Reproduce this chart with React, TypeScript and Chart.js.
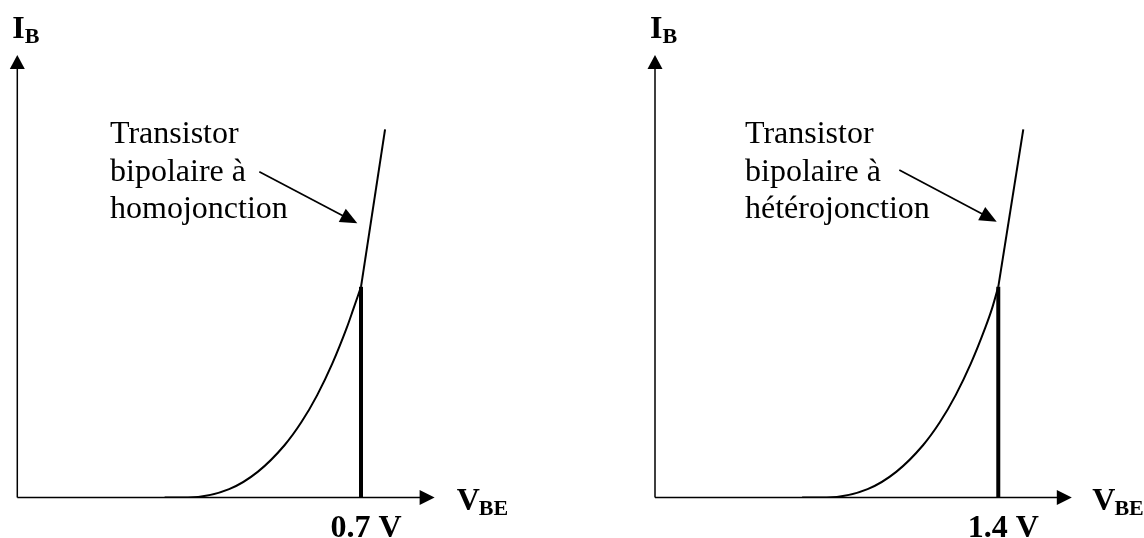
import React, { useEffect, useRef } from "react";
import { Chart, registerables } from "chart.js";

Chart.register(...registerables);

// ---- Data (V_BE in volts, I_B in arbitrary units) ----
const homoCurveX = [0.3, 0.3476, 0.4314, 0.4896, 0.5442, 0.5784, 0.6108, 0.6415, 0.6707, 0.6845, 0.7];
const homoCurveY = [0, 0, 0.189, 0.579, 1.181, 1.699, 2.314, 3.024, 3.826, 4.262, 4.76];
const homoLineX = [0.7, 0.749];
const homoLineY = [4.76, 8.32];
const homoKnee = { x: 0.7, y: 4.76 };
const homoXMax = 0.85;

const heteroCurveX = [0.6, 0.7003, 0.867, 0.9837, 1.093, 1.1615, 1.2263, 1.2879, 1.3462, 1.374, 1.4];
const heteroCurveY = [0, 0, 0.189, 0.579, 1.181, 1.699, 2.314, 3.024, 3.826, 4.262, 4.76];
const heteroLineX = [1.4, 1.502];
const heteroLineY = [4.76, 8.32];
const heteroKnee = { x: 1.4, y: 4.76 };
const heteroXMax = 1.7;

const yMax = 10;
const kneeLabels = ["0.7 V", "1.4 V"];
const annotationLines = [
  ["Transistor", "bipolaire à", "homojonction"],
  ["Transistor", "bipolaire à", "hétérojonction"],
];

const SERIF = "'Liberation Serif', 'Times New Roman', serif";

type PanelCfg = {
  curveX: number[];
  curveY: number[];
  lineX: number[];
  lineY: number[];
  knee: { x: number; y: number };
  xMax: number;
  kneeLabel: string;
  lines: string[];
  textX: number;
  arrowFrom: { x: number; y: number };
  arrowTo: { x: number; y: number };
  padding: { left: number; right: number; top: number; bottom: number };
  vGap: number;
};

function zip(xs: number[], ys: number[]) {
  return xs.map((x, i) => ({ x, y: ys[i] }));
}

function arrowHead(ctx: CanvasRenderingContext2D, x1: number, y1: number, x2: number, y2: number, len: number, half: number) {
  const a = Math.atan2(y2 - y1, x2 - x1);
  const bx = x2 - len * Math.cos(a);
  const by = y2 - len * Math.sin(a);
  ctx.beginPath();
  ctx.moveTo(x2, y2);
  ctx.lineTo(bx + half * Math.sin(a), by - half * Math.cos(a));
  ctx.lineTo(bx - half * Math.sin(a), by + half * Math.cos(a));
  ctx.closePath();
  ctx.fill();
}

function makeDecor(cfg: PanelCfg) {
  return {
    id: "decor",
    afterDatasetsDraw(chart: any) {
      const ctx: CanvasRenderingContext2D = chart.ctx;
      const xs = chart.scales.x;
      const ys = chart.scales.y;
      const x0 = xs.getPixelForValue(0);
      const y0 = ys.getPixelForValue(0);
      const xEnd = xs.getPixelForValue(cfg.xMax);
      const yEnd = ys.getPixelForValue(yMax);
      ctx.save();
      ctx.strokeStyle = "#000";
      ctx.fillStyle = "#000";
      ctx.lineWidth = 1.5;
      // axes
      ctx.beginPath();
      ctx.moveTo(x0, y0);
      ctx.lineTo(xEnd - 10, y0);
      ctx.moveTo(x0, y0);
      ctx.lineTo(x0, yEnd + 10);
      ctx.stroke();
      arrowHead(ctx, x0, y0, xEnd, y0, 15, 7.5);
      arrowHead(ctx, x0, y0, x0, yEnd, 14, 7.5);

      // I_B label
      ctx.textBaseline = "alphabetic";
      ctx.textAlign = "left";
      ctx.font = `bold 32px ${SERIF}`;
      ctx.fillText("I", x0 - 5, yEnd - 17);
      const iw = ctx.measureText("I").width;
      ctx.font = `bold 22px ${SERIF}`;
      ctx.fillText("B", x0 - 5 + iw, yEnd - 12);

      // V_BE label
      ctx.font = `bold 32px ${SERIF}`;
      ctx.fillText("V", xEnd + cfg.vGap, y0 + 12.5);
      const vw = ctx.measureText("V").width;
      ctx.font = `bold 22px ${SERIF}`;
      ctx.fillText("BE", xEnd + cfg.vGap + vw - 1, y0 + 17.5);

      // knee label
      ctx.font = `bold 32px ${SERIF}`;
      ctx.textAlign = "center";
      ctx.fillText(cfg.kneeLabel, xs.getPixelForValue(cfg.knee.x) + 5, y0 + 39.5);

      // annotation text
      ctx.font = `32px ${SERIF}`;
      ctx.textAlign = "left";
      const tx = xs.getPixelForValue(cfg.textX);
      cfg.lines.forEach((t, i) => {
        ctx.fillText(t, tx, 143 + i * 37.5);
      });

      // annotation arrow
      const ax1 = xs.getPixelForValue(cfg.arrowFrom.x);
      const ay1 = ys.getPixelForValue(cfg.arrowFrom.y);
      const ax2 = xs.getPixelForValue(cfg.arrowTo.x);
      const ay2 = ys.getPixelForValue(cfg.arrowTo.y);
      const ang = Math.atan2(ay2 - ay1, ax2 - ax1);
      ctx.lineWidth = 1.7;
      ctx.beginPath();
      ctx.moveTo(ax1, ay1);
      ctx.lineTo(ax2 - 12 * Math.cos(ang), ay2 - 12 * Math.sin(ang));
      ctx.stroke();
      arrowHead(ctx, ax1, ay1, ax2, ay2, 17, 7.5);
      ctx.restore();
    },
  };
}

function Panel({ cfg, left }: { cfg: PanelCfg; left: number }) {
  const ref = useRef<HTMLCanvasElement>(null);
  useEffect(() => {
    if (!ref.current) return;
    const chart = new Chart(ref.current, {
      type: "line",
      data: {
        datasets: [
          {
            data: zip(cfg.curveX, cfg.curveY),
            borderColor: "#000",
            borderWidth: 2,
            pointRadius: 0,
            cubicInterpolationMode: "monotone",
            fill: false,
          },
          {
            data: zip(cfg.lineX, cfg.lineY),
            borderColor: "#000",
            borderWidth: 2,
            pointRadius: 0,
            tension: 0,
            fill: false,
          },
          {
            data: [
              { x: cfg.knee.x, y: 0 },
              { x: cfg.knee.x, y: cfg.knee.y },
            ],
            borderColor: "#000",
            borderWidth: 4,
            pointRadius: 0,
            borderCapStyle: "butt",
            fill: false,
          },
        ],
      } as any,
      options: {
        animation: false,
        responsive: false,
        events: [],
        layout: { padding: cfg.padding },
        plugins: { legend: { display: false }, tooltip: { enabled: false } },
        scales: {
          x: { type: "linear", min: 0, max: cfg.xMax, display: false },
          y: { type: "linear", min: 0, max: yMax, display: false },
        },
      } as any,
      plugins: [makeDecor(cfg)],
    });
    return () => chart.destroy();
  }, []);
  return (
    <canvas
      ref={ref}
      width={572}
      height={538}
      style={{ position: "absolute", left, top: 0, width: 572, height: 538 }}
    />
  );
}

const homoCfg: PanelCfg = {
  curveX: homoCurveX,
  curveY: homoCurveY,
  lineX: homoLineX,
  lineY: homoLineY,
  knee: homoKnee,
  xMax: homoXMax,
  kneeLabel: kneeLabels[0],
  lines: annotationLines[0],
  textX: 0.1888,
  arrowFrom: { x: 0.4929, y: 7.363 },
  arrowTo: { x: 0.6925, y: 6.197 },
  padding: { left: 17.3, right: 572 - (17.3 + 0.85 * 491), top: 55, bottom: 40.5 },
  vGap: 22,
};

const heteroCfg: PanelCfg = {
  curveX: heteroCurveX,
  curveY: heteroCurveY,
  lineX: heteroLineX,
  lineY: heteroLineY,
  knee: heteroKnee,
  xMax: heteroXMax,
  kneeLabel: kneeLabels[1],
  lines: annotationLines[1],
  textX: 0.367,
  arrowFrom: { x: 0.9963, y: 7.401 },
  arrowTo: { x: 1.3936, y: 6.233 },
  padding: { left: 83, right: 572 - (83 + 1.7 * 245.2), top: 55, bottom: 40.5 },
  vGap: 20.5,
};

export default function App() {
  return (
    <div
      style={{
        position: "fixed",
        left: 0,
        top: 0,
        width: 1144,
        height: 538,
        background: "#fff",
        overflow: "hidden",
      }}
    >
      <Panel cfg={homoCfg} left={0} />
      <Panel cfg={heteroCfg} left={572} />
    </div>
  );
}
